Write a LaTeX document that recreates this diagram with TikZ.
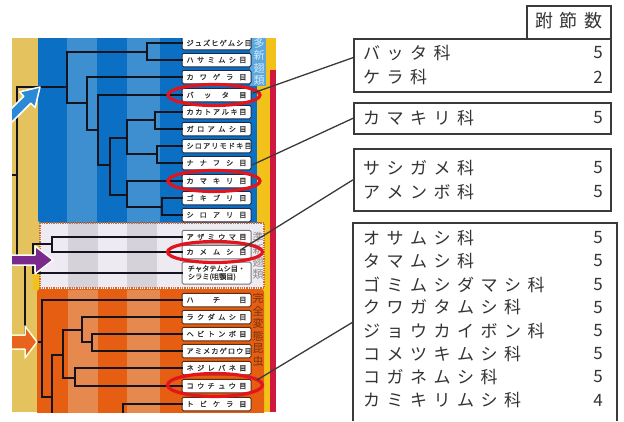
\documentclass[tikz,border=0pt]{standalone}
\usepackage{fontspec}
\newfontfamily\jp{Noto Sans CJK JP}
\newfontfamily\jpb[FakeBold=1.2]{Noto Sans CJK JP}
\usetikzlibrary{shapes.geometric,calc}
\definecolor{ylw}{HTML}{E4C25E}
\definecolor{bdk}{HTML}{0B70C4}
\definecolor{blt}{HTML}{3E8FD0}
\definecolor{bcol}{HTML}{5AA8DE}
\definecolor{gl}{HTML}{EEEAF1}
\definecolor{gd}{HTML}{D6D2DA}
\definecolor{odk}{HTML}{E55E12}
\definecolor{olt}{HTML}{E6894F}
\definecolor{gold}{HTML}{F3C21A}
\definecolor{stripred}{HTML}{D0173F}
\definecolor{ellred}{HTML}{E2141E}
\definecolor{treek}{HTML}{14141E}
\definecolor{boxk}{HTML}{3A3A3A}
\definecolor{dotc}{HTML}{C86E3A}
\definecolor{navy}{HTML}{1B2A4A}
\definecolor{brn}{HTML}{5A2A10}
\definecolor{arrb}{HTML}{2A8AD6}
\definecolor{arrp}{HTML}{7A2A8C}
\definecolor{arro}{HTML}{E8641E}
\makeatletter
\newcommand\ls[1]{\ls@#1\@nil}
\def\ls@#1{\ifx#1\@nil\else#1\hspace{6.5pt}\expandafter\ls@\fi}
\makeatother
\newcommand\spr[1]{\makebox[60pt][s]{#1}}
\begin{document}
\begin{tikzpicture}[x=1pt,y=-1pt,
  tree/.style={draw=treek,line width=2pt,line cap=rect,line join=miter},
  lbl/.style={draw=#1,fill=white,rounded corners=1.5pt,line width=1pt,minimum width=69pt,minimum height=13.5pt,inner sep=0pt,font=\jpb\fontsize{7.2}{8}\selectfont,text=black!80},
  redell/.style={ellipse,draw=ellred,line width=3.2pt,minimum width=#1,minimum height=21pt,inner sep=0pt},
  rbox/.style={draw=boxk,line width=1.6pt,inner sep=0pt,anchor=north west},
  rtxt/.style={font=\jp\fontsize{17}{20}\selectfont,text=black!80,anchor=west,inner sep=0pt},
  rnum/.style={font=\jp\fontsize{17}{20}\selectfont,text=black!80,inner sep=0pt},
  conn/.style={draw=boxk,line width=1.3pt},
  vtxt/.style={font=\jp\fontsize{11}{12.5}\selectfont,align=center,inner sep=0pt},
  arrw/.style={line width=1.5pt,line join=round}
]
\useasboundingbox (0,0) rectangle (624,421);
\fill[white] (0,0) rectangle (624,421);

\begin{scope}
\clip (12,38) rectangle (279,412);
% backgrounds
\fill[ylw] (12,38) rectangle (40,412);
\fill[gold] (33,246) rectangle (40,290);
\fill[gold] (262,70) rectangle (270,412);
\fill[bdk,rounded corners=3pt] (38,30) rectangle (262,223);
\fill[blt] (67,38) rectangle (97,222);
\fill[blt] (127,38) rectangle (160,222);
\fill[gold] (257,86) rectangle (270,222);
\fill[bcol] (250,38) rectangle (266,86);
\fill[gold] (266,38) rectangle (276,70);
\fill[stripred] (270,70) rectangle (276,412);
% gray region
\fill[gl] (40,223) rectangle (264,288);
\fill[gd] (68,223) rectangle (98,288);
\fill[gd] (127,223) rectangle (157,288);
\draw[dotc,densely dotted,line width=1.3pt] (40,223) rectangle (264,288);
% orange region
\fill[odk,rounded corners=3pt] (37,289) rectangle (264,420);
\fill[olt] (68,290) rectangle (98,420);
\fill[olt] (127,290) rectangle (160,420);

% vertical texts
\node[vtxt,text=white!75!bcol] (vt1) at (259,62) {多\\新\\翅\\類};
\node[vtxt,text=black!45] (vt2) at (258,256) {準\\新\\翅\\類};
\node[vtxt,text=brn!80!odk] (vt3) at (258,330) {完\\全\\変\\態\\昆\\虫};

% labels
\node[lbl=navy] (L1) at (216.5,43) {\spr{ジ ュ ズ ヒ ゲ ム シ 目}};
\node[lbl=navy] (L2) at (216.5,60) {\spr{ハ サ ミ ム シ 目}};
\node[lbl=navy] (L3) at (216.5,77) {\spr{カ ワ ゲ ラ 目}};
\node[lbl=navy] (L4) at (216.5,95) {\spr{バ ッ タ 目}};
\node[lbl=navy] (L5) at (216.5,112) {\spr{カ カ ト ア ル キ 目}};
\node[lbl=navy] (L6) at (216.5,129) {\spr{ガ ロ ア ム シ 目}};
\node[lbl=navy] (L7) at (216.5,146) {\spr{シ ロ ア リ モ ド キ 目}};
\node[lbl=navy] (L8) at (216.5,163) {\spr{ナ ナ フ シ 目}};
\node[lbl=navy] (L9) at (216.5,181) {\spr{カ マ キ リ 目}};
\node[lbl=navy] (L10) at (216.5,198) {\spr{ゴ キ ブ リ 目}};
\node[lbl=navy] (L11) at (216.5,215) {\spr{シ ロ ア リ 目}};
\node[lbl=black!55] (L12) at (216.5,237) {\spr{ア ザ ミ ウ マ 目}};
\node[lbl=black!55] (L13) at (216.5,252) {\spr{カ メ ム シ 目}};
\node[lbl=black!55,minimum height=22pt,align=left] (L14) at (216.5,273) {チャタテムシ目・\\シラミ(咀顎目)};
\node[lbl=brn] (L15) at (216.5,300) {\spr{ハ チ 目}};
\node[lbl=brn] (L16) at (216.5,317) {\spr{ラ ク ダ ム シ 目}};
\node[lbl=brn] (L17) at (216.5,334) {\spr{ヘ ビ ト ン ボ 目}};
\node[lbl=brn] (L18) at (216.5,351) {\spr{ア ミ メ カ ゲ ロ ウ 目}};
\node[lbl=brn] (L19) at (216.5,368) {\spr{ネ ジ レ バ ネ 目}};
\node[lbl=brn] (L20) at (216.5,386) {\spr{コ ウ チ ュ ウ 目}};
\node[lbl=brn] (L21) at (216.5,404) {\spr{ト ビ ケ ラ 目}};

% tree: blue group
\draw[tree] (L1.west) -- (147,43) -- (147,60) -- (L2.west);
\draw[tree] (147,52) -- (67,52) -- (67,103) -- (87,103);
\draw[tree] (L3.west) -- (87,77) -- (87,130) -- (98,130);
\draw[tree] (L4.west) -- (98,95) -- (98,165) -- (110,165);
\draw[tree] (127,138) -- (110,138) -- (110,195) -- (127,195);
\draw[tree] (155,120) -- (127,120) -- (127,154) -- (157,154);
\draw[tree] (L5.west) -- (155,112) -- (155,129) -- (L6.west);
\draw[tree] (L7.west) -- (157,146) -- (157,163) -- (L8.west);
\draw[tree] (L9.west) -- (127,181) -- (127,207) -- (162,207);
\draw[tree] (L10.west) -- (162,198) -- (162,215) -- (L11.west);
% root
\draw[tree] (12,175) -- (17,175);
\draw[tree] (67,87) -- (17,87) -- (17,262) -- (25,262);
% gray group
\draw[tree] (L12.west) -- (52,237) -- (52,252) -- (L13.west);
\draw[tree] (52,244) -- (33,244) -- (33,273) -- (L14.west);
\draw[tree] (33,258) -- (25,258) -- (25,342) -- (42,342);
% orange group
\draw[tree] (L15.west) -- (42,300) -- (42,397) -- (52,397);
\draw[tree] (63,355) -- (52,355) -- (52,420);
\draw[tree] (82,330) -- (63,330) -- (63,378) -- (75,378);
\draw[tree] (L16.west) -- (82,317) -- (82,342) -- (92,342);
\draw[tree] (L17.west) -- (92,334) -- (92,351) -- (L18.west);
\draw[tree] (L19.west) -- (75,368) -- (75,386) -- (L20.west);
\draw[tree] (L21.west) -- (123,404) -- (123,420);
\draw[tree] (52,414) -- (123,414);

% arrows
\draw[arrw,draw=white,fill=arrb] (40,87) -- (35.1,107.5) -- (30.8,103.2) -- (2.5,131.5) -- (-4.5,124.5) -- (23.8,96.2) -- (19.5,91.9) -- cycle;
\draw[arrw,draw=white,fill=arrp] (4,255) -- (35,255) -- (35,246) -- (53,260) -- (35,274) -- (35,265) -- (4,265) -- cycle;
\draw[arrw,draw=white!85!yellow,fill=arro] (4,335) -- (25,335) -- (25,326) -- (37,342) -- (25,358) -- (25,349) -- (4,349) -- cycle;

% red ellipses
\node[redell=92pt] (E1) at (214,95) {};
\node[redell=92pt] (E2) at (214,181) {};
\node[redell=95pt] (E3) at (215,252) {};
\node[redell=95pt,minimum height=23pt] (E4) at (215,385) {};
\end{scope}

% right boxes
\node[rbox,minimum width=84pt,minimum height=33pt] (H) at (526,5) {};
\node[font=\jp\fontsize{18}{20}\selectfont,text=black!80,anchor=west,inner sep=0pt] (Ht) at (535,21) {\ls{跗節数}};
\node[rbox,minimum width=257pt,minimum height=53pt] (B1) at (353,38) {};
\node[rbox,minimum width=257pt,minimum height=31pt] (B2) at (353,102) {};
\node[rbox,minimum width=257pt,minimum height=62pt] (B3) at (353,148) {};
\coordinate (B4a) at (353,421);
\coordinate (B4b) at (353,223);
\coordinate (B4c) at (617,223);
\coordinate (B4d) at (617,421);
\draw[draw=boxk,line width=1.6pt] (B4a) -- (B4b) -- (B4c) -- (B4d);

\node[rtxt] (t1a) at (363,53) {\ls{バッタ科}};
\node[rnum] (n1a) at (598,53) {5};
\node[rtxt] (t1b) at (363,77) {\ls{ケラ科}};
\node[rnum] (n1b) at (598,77) {2};
\node[rtxt] (t2a) at (363,118) {\ls{カマキリ科}};
\node[rnum] (n2a) at (598,118) {5};
\node[rtxt] (t3a) at (363,168) {\ls{サシガメ科}};
\node[rnum] (n3a) at (598,168) {5};
\node[rtxt] (t3b) at (363,192) {\ls{アメンボ科}};
\node[rnum] (n3b) at (598,192) {5};
\node[rtxt] (t4a) at (363,238) {\ls{オサムシ科}};
\node[rnum] (n4a) at (598,238) {5};
\node[rtxt] (t4b) at (363,261) {\ls{タマムシ科}};
\node[rnum] (n4b) at (598,261) {5};
\node[rtxt] (t4c) at (363,284.5) {\ls{ゴミムシダマシ科}};
\node[rnum] (n4c) at (598,284.5) {5};
\node[rtxt] (t4d) at (363,307.5) {\ls{クワガタムシ科}};
\node[rnum] (n4d) at (598,307.5) {5};
\node[rtxt] (t4e) at (363,331) {\ls{ジョウカイボン科}};
\node[rnum] (n4e) at (598,331) {5};
\node[rtxt] (t4f) at (363,354) {\ls{コメツキムシ科}};
\node[rnum] (n4f) at (598,354) {5};
\node[rtxt] (t4g) at (363,377) {\ls{コガネムシ科}};
\node[rnum] (n4g) at (598,377) {5};
\node[rtxt] (t4h) at (363,400.5) {\ls{カミキリムシ科}};
\node[rnum] (n4h) at (598,400.5) {4};

% connectors
\coordinate (c1) at (253,93);
\coordinate (c2) at (252,165);
\coordinate (c3) at (242,249);
\coordinate (c4) at (257,380);
\coordinate (B4w) at (353,322);
\draw[conn] (c1) -- ($(B1.north west)!0.36!(B1.south west)$);
\draw[conn] (c2) -- (B2.west);
\draw[conn] (c3) -- (B3.west);
\draw[conn] (c4) -- (B4w);
\end{tikzpicture}
\end{document}
